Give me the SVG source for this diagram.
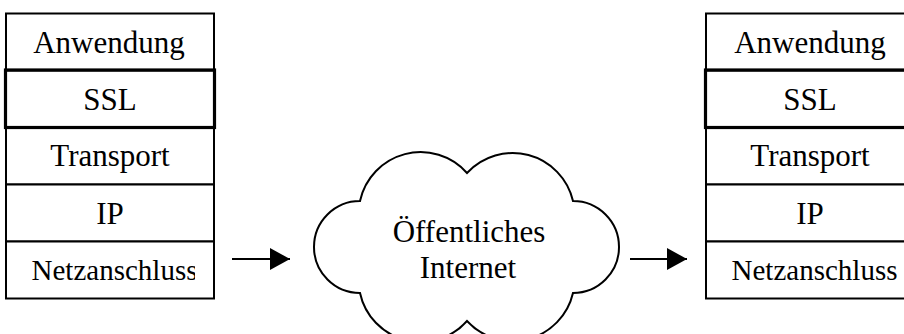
<svg xmlns="http://www.w3.org/2000/svg" width="904" height="334" viewBox="0 0 904 334">
<style>
  .cell { fill: #ffffff; stroke: #000000; stroke-width: 2; }
  .bold { fill: none; stroke: #000000; stroke-width: 3.2; }
  .t { font-family: "Liberation Serif", "Times New Roman", serif; font-size: 31px; fill: #000000; text-anchor: middle; }
  .ts { font-size: 29px; }
  .line { stroke: #000000; stroke-width: 2; fill: none; }
  .cloud { fill: #ffffff; stroke: #000000; stroke-width: 2; }
</style>
<defs>
  <marker id="arrow" markerUnits="userSpaceOnUse" markerWidth="22" markerHeight="24" refX="20" refY="11" orient="auto">
    <polygon points="0,0 20,11 0,22" fill="#000000"/>
  </marker>
  <clipPath id="clipL">
    <rect x="6" y="241" width="189" height="57"/>
  </clipPath>
</defs>

<g id="stack-left">
  <rect class="cell" x="6" y="13.5" width="208" height="57"/>
  <rect class="cell" x="6" y="70.5" width="208" height="57"/>
  <rect class="cell" x="6" y="127.5" width="208" height="57"/>
  <rect class="cell" x="6" y="184.5" width="208" height="57"/>
  <rect class="cell" x="6" y="241.5" width="208" height="57"/>
  <rect class="bold" x="5.5" y="70" width="209" height="57.5"/>
  <text class="t" x="109" y="53">Anwendung</text>
  <text class="t" x="110" y="110">SSL</text>
  <text class="t" x="110" y="166">Transport</text>
  <text class="t" x="110" y="224">IP</text>
  <text class="t ts" x="114.5" y="280" clip-path="url(#clipL)">Netzanschluss</text>
</g>

<g id="stack-right">
  <rect class="cell" x="706" y="13.5" width="208" height="57"/>
  <rect class="cell" x="706" y="70.5" width="208" height="57"/>
  <rect class="cell" x="706" y="127.5" width="208" height="57"/>
  <rect class="cell" x="706" y="184.5" width="208" height="57"/>
  <rect class="cell" x="706" y="241.5" width="208" height="57"/>
  <rect class="bold" x="705.5" y="70" width="209" height="57.5"/>
  <text class="t" x="810" y="53">Anwendung</text>
  <text class="t" x="810" y="110">SSL</text>
  <text class="t" x="810" y="166">Transport</text>
  <text class="t" x="810" y="224">IP</text>
  <text class="t ts" x="814.5" y="280">Netzanschluss</text>
</g>

<g id="cloud">
  <path class="cloud" d="M 360,201 A 62 62 0 0 1 467,173 A 62 62 0 0 1 573,201 A 46 46 0 1 1 573,293 A 62 62 0 0 1 467,321 A 62 62 0 0 1 360,293 A 46 46 0 1 1 360,201 Z"/>
  <text class="t" x="469" y="242">Öffentliches</text>
  <text class="t" x="468" y="278">Internet</text>
</g>

<g id="connectors">
  <line class="line" x1="232" y1="259" x2="290" y2="259" marker-end="url(#arrow)"/>
  <line class="line" x1="630" y1="259" x2="687" y2="259" marker-end="url(#arrow)"/>
</g>
</svg>
